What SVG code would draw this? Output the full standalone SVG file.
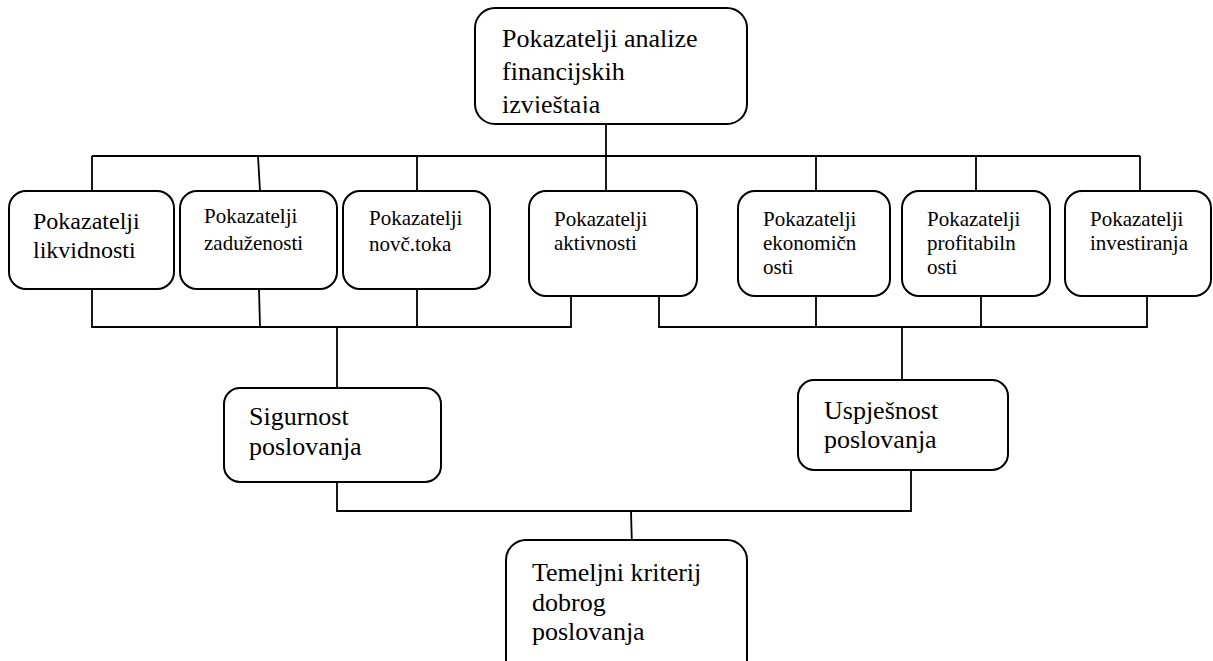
<svg xmlns="http://www.w3.org/2000/svg" width="1213" height="661" viewBox="0 0 1213 661">
<style>
.box{fill:#fff;stroke:#000;stroke-width:2}
.ln{fill:none;stroke:#000;stroke-width:1.8}
.t{font-family:'Liberation Serif','DejaVu Serif','Noto Serif',serif;fill:#000}
.big{font-size:26px}
.mid{font-size:24px}
.sm{font-size:21px}
</style>
<defs>
<clipPath id="clipTop"><rect x="475" y="8" width="272" height="105"/></clipPath>
</defs>
<rect width="1213" height="661" fill="#fff"/>
<g id="connectors">
<path class="ln" d="M606,124 V191"/>
<path class="ln" d="M92,156 H1140"/>
<path class="ln" d="M92,156 V191 M258,156 L260,191 M417,156 V191 M816,156 V191 M976,156 V191 M1140,156 V191"/>
<path class="ln" d="M92,289 V327 H571 V296 M259,289 L260,327 M417,289 V327"/>
<path class="ln" d="M659,296 V327 H1147 V296 M816,296 V327 M981,296 V327"/>
<path class="ln" d="M337,327 V388"/>
<path class="ln" d="M902,327 V380"/>
<path class="ln" d="M337,482 V511 H911 V470"/>
<path class="ln" d="M631,511 L632,548"/>
</g>
<g id="n-top" class="t" font-family="Liberation Serif, serif">
<rect class="box" x="475" y="8" width="272" height="116" rx="20"/>
<text class="t big" x="502" y="47">Pokazatelji analize</text>
<text class="t big" x="502" y="80">financijskih</text>
<text class="t big" x="502" y="113" clip-path="url(#clipTop)">izvještaja</text>
</g>
<g id="n-likvidnosti" class="t">
<rect class="box" x="9" y="191" width="165" height="98" rx="17"/>
<text class="t mid" x="33" y="229">Pokazatelji</text>
<text class="t mid" x="33" y="258">likvidnosti</text>
</g>
<g id="n-zaduzenosti" class="t">
<rect class="box" x="180" y="191" width="157" height="98" rx="17"/>
<text class="t sm" x="204" y="223">Pokazatelji</text>
<text class="t sm" x="204" y="250">zaduženosti</text>
</g>
<g id="n-novcanitok" class="t">
<rect class="box" x="343" y="191" width="147" height="98" rx="17"/>
<text class="t sm" x="369" y="225">Pokazatelji</text>
<text class="t sm" x="369" y="251">novč.toka</text>
</g>
<g id="n-aktivnosti" class="t">
<rect class="box" x="529" y="191" width="168" height="105" rx="17"/>
<text class="t sm" x="554" y="226">Pokazatelji</text>
<text class="t sm" x="554" y="250">aktivnosti</text>
</g>
<g id="n-ekonomicnosti" class="t">
<rect class="box" x="738" y="191" width="152" height="105" rx="17"/>
<text class="t sm" x="763" y="226">Pokazatelji</text>
<text class="t sm" x="763" y="250">ekonomičn</text>
<text class="t sm" x="763" y="274">osti</text>
</g>
<g id="n-profitabilnosti" class="t">
<rect class="box" x="902" y="191" width="148" height="105" rx="17"/>
<text class="t sm" x="927" y="226">Pokazatelji</text>
<text class="t sm" x="927" y="250">profitabiln</text>
<text class="t sm" x="927" y="274">osti</text>
</g>
<g id="n-investiranja" class="t">
<rect class="box" x="1065" y="191" width="146" height="105" rx="17"/>
<text class="t sm" x="1090" y="226">Pokazatelji</text>
<text class="t sm" x="1090" y="250">investiranja</text>
</g>
<g id="n-sigurnost" class="t">
<rect class="box" x="224" y="388" width="217" height="94" rx="16"/>
<text class="t big" x="249" y="425">Sigurnost</text>
<text class="t big" x="249" y="455">poslovanja</text>
</g>
<g id="n-uspjesnost" class="t">
<rect class="box" x="798" y="380" width="210" height="90" rx="16"/>
<text class="t big" x="824" y="419">Uspješnost</text>
<text class="t big" x="824" y="448">poslovanja</text>
</g>
<g id="n-temeljni" class="t">
<rect class="box" x="506" y="540" width="241" height="140" rx="20"/>
<text class="t big" x="532" y="581">Temeljni kriterij</text>
<text class="t big" x="532" y="611">dobrog</text>
<text class="t big" x="532" y="640">poslovanja</text>
</g>
</svg>
